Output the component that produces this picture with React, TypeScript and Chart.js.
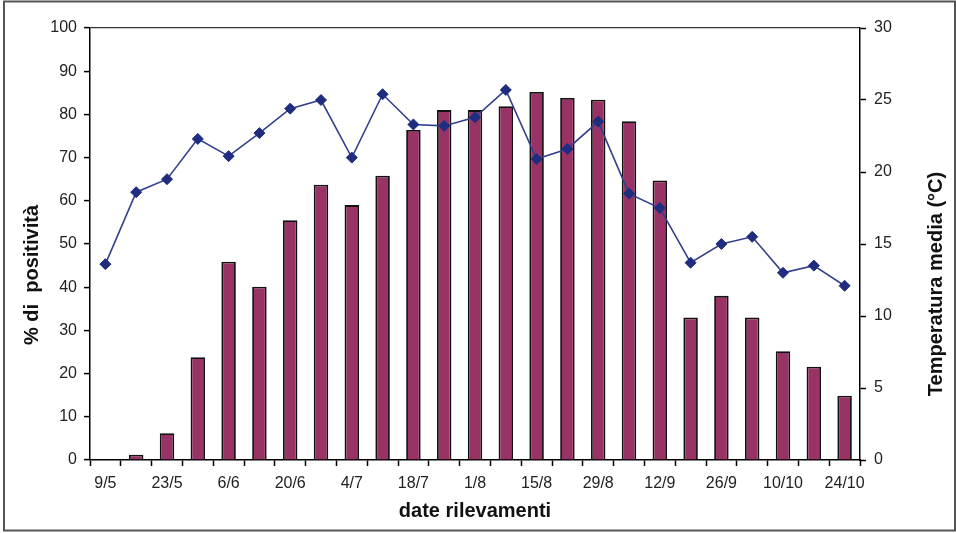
import React, { useEffect, useRef } from "react";
import { Chart, registerables } from "chart.js";

Chart.register(...registerables);

const dates = [
  "9/5", "16/5", "23/5", "30/5", "6/6", "13/6", "20/6", "27/6", "4/7", "11/7",
  "18/7", "25/7", "1/8", "8/8", "15/8", "22/8", "29/8", "5/9", "12/9", "19/9",
  "26/9", "3/10", "10/10", "17/10", "24/10",
];

const shownTickLabels = [
  "9/5", "23/5", "6/6", "20/6", "4/7", "18/7", "1/8", "15/8", "29/8", "12/9",
  "26/9", "10/10", "24/10",
];

const positivity = [
  0, 1.2, 6.2, 23.8, 45.9, 40.1, 55.5, 63.7, 59.0, 65.8,
  76.4, 81.0, 81.0, 81.9, 85.2, 83.8, 83.4, 78.4, 64.7, 33.0,
  38.0, 33.0, 25.2, 21.6, 14.9,
];

const temperature = [
  13.6, 18.6, 19.5, 22.3, 21.1, 22.7, 24.4, 25.0, 21.0, 25.4,
  23.3, 23.2, 23.8, 25.7, 20.9, 21.6, 23.5, 18.5, 17.5, 13.7,
  15.0, 15.5, 13.0, 13.5, 12.1,
];

const leftTitle = "% di  positività";
const rightTitle = "Temperatura media (°C)";
const bottomTitle = "date rilevamenti";

const FONT = "'Liberation Sans', Arial, Helvetica, sans-serif";

const framePlugin = {
  id: "frame",
  beforeDraw(chart: any) {
    const { ctx, width, height } = chart;
    ctx.save();
    ctx.fillStyle = "#ffffff";
    ctx.fillRect(0, 0, width, height);
    ctx.strokeStyle = "#555555";
    ctx.lineWidth = 2;
    ctx.strokeRect(4, 1.5, width - 5, height - 4);
    ctx.restore();
  },
  afterDraw(chart: any) {
    const { ctx, chartArea, scales } = chart;
    const midY = (chartArea.top + chartArea.bottom) / 2;
    ctx.save();
    ctx.fillStyle = "#111111";
    ctx.font = `bold 20px ${FONT}`;
    ctx.textAlign = "center";
    ctx.textBaseline = "middle";
    ctx.translate(scales.y.left + 32, midY + 31);
    ctx.rotate(-Math.PI / 2);
    ctx.fillText(leftTitle, 0, 0);
    ctx.restore();

    ctx.save();
    ctx.fillStyle = "#111111";
    ctx.font = `bold 20px ${FONT}`;
    ctx.textAlign = "center";
    ctx.textBaseline = "middle";
    ctx.translate(scales.y2.right - 20, midY + 40);
    ctx.rotate(-Math.PI / 2);
    ctx.fillText(rightTitle, 0, 0);
    ctx.restore();
  },
};

export default function App() {
  const ref = useRef<HTMLCanvasElement | null>(null);

  useEffect(() => {
    if (!ref.current) return;
    const chart = new Chart(ref.current, {
      type: "bar",
      data: {
        labels: dates,
        datasets: [
          {
            type: "line",
            label: "Temperatura media",
            data: temperature,
            yAxisID: "y2",
            borderColor: "#34408c",
            backgroundColor: "#1f2c80",
            borderWidth: 1.6,
            pointStyle: "rectRot",
            pointRadius: 5.5,
            pointBackgroundColor: "#1f2c80",
            pointBorderColor: "#1f2c80",
            pointBorderWidth: 1,
            tension: 0,
            order: 0,
          } as any,
          {
            type: "bar",
            label: "% di positività",
            data: positivity,
            yAxisID: "y",
            backgroundColor: "#993366",
            borderColor: "#111111",
            borderWidth: 1.8,
            barPercentage: 0.47,
            categoryPercentage: 1,
            order: 1,
          } as any,
        ],
      },
      options: {
        responsive: false,
        animation: false,
        layout: { padding: { top: 28, left: 0, right: 0, bottom: 0 } },
        plugins: {
          legend: { display: false },
          tooltip: { enabled: false },
        },
        scales: {
          x: {
            offset: true,
            grid: {
              offset: true,
              drawOnChartArea: false,
              drawTicks: true,
              tickLength: 6,
              tickColor: "#000000",
              tickWidth: 1.5,
            },
            border: { display: true, color: "#000000", width: 1.5 },
            ticks: {
              autoSkip: false,
              maxRotation: 0,
              minRotation: 0,
              padding: 8,
              color: "#222222",
              font: { family: FONT, size: 16 },
              callback: function (this: any, _v: any, i: number) {
                const l = dates[i];
                return shownTickLabels.includes(l) ? l : "";
              },
            },
            title: {
              display: true,
              text: bottomTitle,
              color: "#111111",
              font: { family: FONT, size: 20, weight: "bold" },
              padding: { top: 10, bottom: 10 },
            },
            afterFit(scale: any) {
              scale.height = 73;
            },
          },
          y: {
            position: "left",
            min: 0,
            max: 100,
            ticks: {
              stepSize: 10,
              padding: 7,
              color: "#222222",
              font: { family: FONT, size: 16 },
            },
            grid: {
              drawOnChartArea: true,
              color: (c: any) => (c.tick && c.tick.value === 100 ? "#333333" : "rgba(0,0,0,0)"),
              lineWidth: 1.2,
              tickLength: 6,
              tickColor: "#000000",
              tickWidth: 1.5,
            },
            border: { display: true, color: "#000000", width: 1.5 },
            afterFit(scale: any) {
              scale.width = 90;
            },
          },
          y2: {
            position: "right",
            min: 0,
            max: 30,
            ticks: {
              stepSize: 5,
              padding: 8,
              color: "#222222",
              font: { family: FONT, size: 16 },
            },
            grid: {
              drawOnChartArea: false,
              tickLength: 6,
              tickColor: "#000000",
              tickWidth: 1.5,
            },
            border: { display: true, color: "#000000", width: 1.5 },
            afterFit(scale: any) {
              scale.width = 96;
            },
          },
        },
      },
      plugins: [framePlugin],
    });
    return () => chart.destroy();
  }, []);

  return (
    <div style={{ position: "absolute", left: 0, top: 0, width: 956, height: 533 }}>
      <canvas ref={ref} width={956} height={533} style={{ display: "block" }} />
    </div>
  );
}
